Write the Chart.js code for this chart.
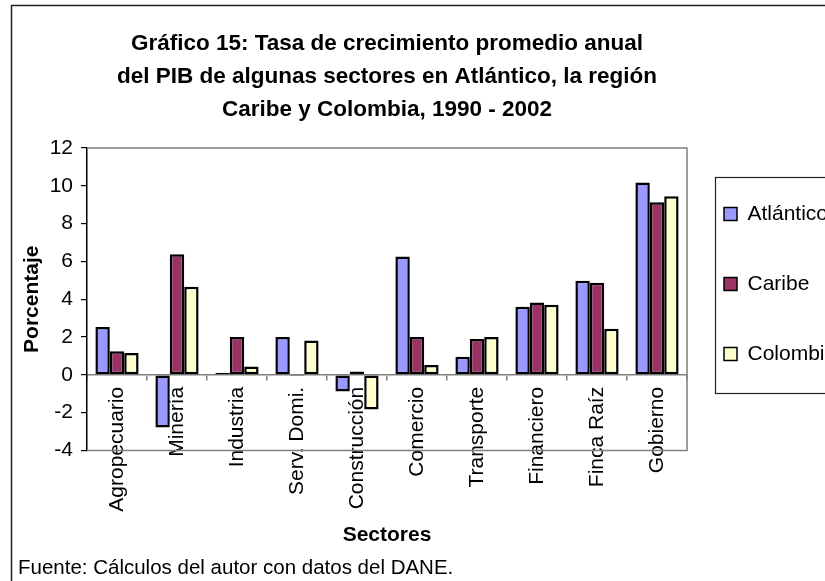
<!DOCTYPE html>
<html><head><meta charset="utf-8">
<script src="https://cdn.jsdelivr.net/npm/chart.js@4.4.1/dist/chart.umd.min.js"></script>
<style>html,body{margin:0;padding:0;background:#fff;overflow:hidden}</style>
</head><body>
<canvas id="c" width="825" height="581"></canvas>
<script>
// ---- data ----
const titleLines = ['Gráfico 15: Tasa de crecimiento promedio anual',
  'del PIB de algunas sectores en Atlántico, la región',
  'Caribe y Colombia, 1990 - 2002'];
const categories = ['Agropecuario','Minería','Industria','Serv. Domi.','Construcción',
  'Comercio','Transporte','Financiero','Finca Raíz','Gobierno'];
const seriesNames = ['Atlántico','Caribe','Colombia'];
const atlantico = [2.53, -2.79, 0.10, 2.00, -0.89, 6.26, 0.96, 3.60, 4.98, 10.18];
const caribe    = [1.24,  6.38, 2.00, -0.07, 0.18, 2.00, 1.90, 3.83, 4.87, 9.13];
const colombia  = [1.15,  4.66, 0.44, 1.81, -1.83, 0.52, 2.00, 3.70, 2.43, 9.45];
const yTicks = [-4, -2, 0, 2, 4, 6, 8, 10, 12];
const yAxisTitle = 'Porcentaje';
const xAxisTitle = 'Sectores';
const sourceNote = 'Fuente: Cálculos del autor con datos del DANE.';
const seriesColors = ['#9999FF', '#993366', '#FFFFCC'];

Chart.defaults.font.family = "'Liberation Sans', Arial, sans-serif";
Chart.defaults.color = '#000';

const framePlugin = {
  id: 'frame',
  beforeDraw(chart) {
    const c = chart.ctx;
    c.save();
    c.fillStyle = '#fff';
    c.fillRect(0, 0, chart.width, chart.height);
    c.strokeStyle = '#222';
    c.lineWidth = 1.5;
    c.strokeRect(11.5, 5.5, chart.width + 40, chart.height + 40);
    c.restore();
  },
  beforeDatasetsDraw(chart) {
    const a = chart.chartArea, c = chart.ctx;
    c.save();
    c.strokeStyle = '#808080';
    c.lineWidth = 1.5;
    c.beginPath();
    c.moveTo(a.left, a.top); c.lineTo(a.right, a.top);
    c.lineTo(a.right, a.bottom); c.lineTo(a.left, a.bottom);
    c.stroke();
    c.restore();
  },
  afterDraw(chart) {
    const lg = chart.legend;
    if (!lg || !lg.legendHitBoxes || !lg.legendHitBoxes.length) return;
    const hb = lg.legendHitBoxes;
    const first = hb[0], last = hb[hb.length - 1];
    const c = chart.ctx;
    c.save();
    c.strokeStyle = '#222';
    c.lineWidth = 1.2;
    const x = first.left - 9, y = first.top + 10.5 - 37;
    const y2 = last.top + 10.5 + 39;
    c.strokeRect(Math.round(x) + 0.5, Math.round(y) + 0.5, 300, Math.round(y2 - y));
    c.restore();
  }
};

const datasets = [atlantico, caribe, colombia].map((vals, i) => ({
  label: seriesNames[i],
  data: vals,
  backgroundColor: seriesColors[i],
  borderColor: '#000',
  borderWidth: 2.5,
  borderSkipped: false,
  categoryPercentage: 0.72,
  barPercentage: 1.0
}));

new Chart(document.getElementById('c'), {
  type: 'bar',
  data: { labels: categories, datasets },
  plugins: [framePlugin],
  options: {
    responsive: false,
    animation: false,
    devicePixelRatio: 1,
    layout: { padding: { left: 18, top: 5, right: 0, bottom: 0 } },
    plugins: {
      title: {
        display: true,
        fullSize: false,
        text: titleLines,
        font: { size: 22.5, weight: 'bold', lineHeight: 33 / 22.5 },
        color: '#000',
        padding: { top: 22.5, bottom: 21.5 }
      },
      subtitle: {
        display: true,
        position: 'bottom',
        align: 'start',
        text: sourceNote,
        font: { size: 20.5, weight: 'normal', lineHeight: 1.2 },
        color: '#000',
        padding: { top: 106, bottom: 0 }
      },
      legend: {
        display: true,
        position: 'right',
        align: 'start',
        maxWidth: 138,
        title: { display: true, text: '', font: { size: 1, lineHeight: 1 }, padding: { top: 160.5, bottom: 0 } },
        labels: {
          boxWidth: 13,
          boxHeight: 13,
          padding: 37,
          font: { size: 21, lineHeight: 33 / 21 },
          color: '#000',
          generateLabels(chart) {
            const items = Chart.defaults.plugins.legend.labels.generateLabels(chart);
            return items.map(it => Object.assign(it, { text: [it.text], lineWidth: 1.5 }));
          }
        }
      },
      tooltip: { enabled: false }
    },
    scales: {
      x: {
        position: { y: 0 },
        grid: { drawOnChartArea: false, drawTicks: true, tickLength: 5, color: '#808080', offset: true, lineWidth: 1.5 },
        border: { color: '#808080', width: 1.5 },
        ticks: { autoSkip: false, maxRotation: 90, minRotation: 90, padding: 7, font: { size: 21 }, color: '#000' },
        title: { display: true, text: xAxisTitle, font: { size: 21, weight: 'bold' }, color: '#000', padding: { top: 4, bottom: 4 } }
      },
      y: {
        min: yTicks[0],
        max: yTicks[yTicks.length - 1],
        afterBuildTicks(scale) { scale.ticks = yTicks.map(v => ({ value: v })); },
        afterFit(scale) { scale.width = 69; },
        grid: { drawOnChartArea: false, drawTicks: true, tickLength: 6, color: '#000', lineWidth: 1.2 },
        border: { color: '#000', width: 1.5 },
        ticks: { padding: 8, font: { size: 21 }, color: '#000' },
        title: { display: true, text: yAxisTitle, font: { size: 21, weight: 'bold' }, color: '#000', padding: { top: 2, bottom: 0 } }
      }
    }
  }
});
</script>
</body></html>
